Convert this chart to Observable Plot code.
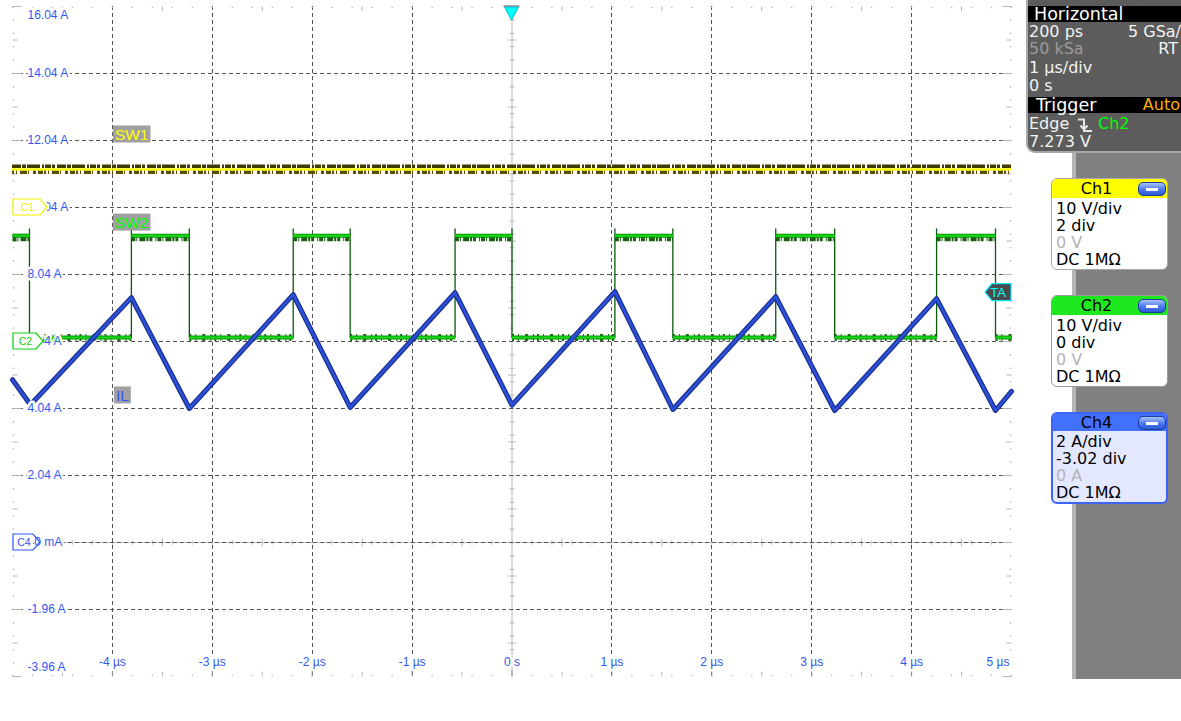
<!DOCTYPE html>
<html><head><meta charset="utf-8">
<script src="https://cdn.jsdelivr.net/npm/d3@7"></script>
<script src="https://cdn.jsdelivr.net/npm/@observablehq/plot@0.6"></script>
<style>
html,body{margin:0;padding:0;background:#fff;}
#wrap{position:relative;width:1181px;height:721px;overflow:hidden;font-family:"DejaVu Sans",sans-serif;}
#chart{position:absolute;left:0;top:0;}
#strip{position:absolute;left:1072px;top:153px;width:109px;height:526px;background:#808080;border-left:4px solid #b4b4b4;box-sizing:border-box;}
#hpanel{position:absolute;left:1026px;top:0;width:155px;height:153px;background:#5c5c5c;border-left:2px solid #a8a8a8;border-bottom:2px solid #a8a8a8;border-bottom-left-radius:9px;box-sizing:border-box;color:#f2f2f2;font-size:16px;}
.hbar{position:absolute;left:0;right:0;height:16px;line-height:16px;background:#000;color:#fff;font-size:17.5px;padding-left:7px;}
.row{position:absolute;height:18px;line-height:18px;white-space:nowrap;}
.ch{position:absolute;left:1051px;width:117px;height:92px;box-sizing:border-box;border:1px solid #a8a8a8;border-radius:6px;background:#fff;overflow:hidden;font-size:16px;color:#000;}
.chh{position:relative;height:19px;line-height:19px;}
.chh span{position:absolute;left:0;width:89px;text-align:center;}
.btn{position:absolute;right:1px;top:3px;width:26px;height:12px;border-radius:5px;border:1px solid #1d3b9c;background:linear-gradient(#a9c2ff,#4a78ee 55%,#2c58d4);}
.btn:after{content:"";position:absolute;left:7px;top:5px;width:12px;height:3px;background:#fff;}
.chb{padding:2px 0 0 4px;line-height:17px;white-space:nowrap;}
.dim{color:#b4b4b4;}
</style></head><body>
<div id="wrap">
  <div id="chart"></div>
  <div id="strip"></div>
  <div id="hpanel">
    <div class="hbar" style="top:6px;padding-left:6px">Horizontal</div>
    <div class="row" style="top:23px;left:1px">200 ps</div>
    <div class="row" style="top:23px;right:0px">5 GSa/</div>
    <div class="row" style="top:40px;left:1px;color:#9a9a9a">50 kSa</div>
    <div class="row" style="top:40px;right:3px">RT</div>
    <div class="row" style="top:59px;left:1px">1 µs/div</div>
    <div class="row" style="top:77px;left:1px">0 s</div>
    <div class="hbar" style="top:97px;padding-left:8px">Trigger<span style="position:absolute;right:1px;color:#ffac00;font-size:16px">Auto</span></div>
    <div class="row" style="top:115px;left:1px">Edge</div>
    <svg style="position:absolute;left:49px;top:117px" width="16" height="16"><path d="M1,2.5H7V14H15M3.5,8.5L7,12.5L10.5,8.5" fill="none" stroke="#e6e6e6" stroke-width="2"/></svg>
    <div class="row" style="top:115px;left:70px;color:#00ff00">Ch2</div>
    <div class="row" style="top:133px;left:1px">7.273 V</div>
  </div>
  <div class="ch" style="top:178px;">
    <div class="chh" style="background:#ffff00"><span>Ch1</span><div class="btn"></div></div>
    <div class="chb">10 V/div<br>2 div<br><span class="dim">0 V</span><br>DC 1MΩ</div>
  </div>
  <div class="ch" style="top:295px;border-color:#9a9a9a">
    <div class="chh" style="background:#1ee81e"><span>Ch2</span><div class="btn"></div></div>
    <div class="chb">10 V/div<br>0 div<br><span class="dim">0 V</span><br>DC 1MΩ</div>
  </div>
  <div class="ch" style="top:412px;border:2px solid #3d63ff;background:#e4e8ff;">
    <div class="chh" style="background:#4270ff;height:17px;line-height:17px"><span style="left:-1px">Ch4</span><div class="btn" style="right:0;top:2px"></div></div>
    <div class="chb" style="padding-left:3px">2 A/div<br>-3.02 div<br><span class="dim">0 A</span><br>DC 1MΩ</div>
  </div>
</div>
<script>
// ---------------- data ----------------
const timeGrid = [-4, -3, -2, -1, 1, 2, 3, 4];
const timeTicks = [-4, -3, -2, -1, 0, 1, 2, 3, 4];
const timeTickLabels = ["-4 µs", "-3 µs", "-2 µs", "-1 µs", "0 s", "1 µs", "2 µs", "3 µs", "4 µs"];
const timeEndLabel = "5 µs";

const ampTicks = [16.04, 14.04, 12.04, 10.04, 8.04, 6.04, 4.04, 2.04, 0.04, -1.96, -3.96];
const ampTickLabels = ["16.04 A", "14.04 A", "12.04 A", "10.04 A", "8.04 A", "6.04 A", "4.04 A", "2.04 A", "40 mA", "-1.96 A", "-3.96 A"];

// IL (Ch4) – triangle current, µs / A
const ilTimes  = [-5.00, -4.82, -3.81, -3.23, -2.19, -1.62, -0.57, 0.00, 1.03, 1.61, 2.64, 3.23, 4.25, 4.84, 5.00];
const ilValues = [ 4.90,  4.15,  7.35,  4.04,  7.44,  4.07,  7.50, 4.14, 7.53, 4.01, 7.38, 3.98, 7.32, 3.98, 4.55];

// SW1 (Ch1) – flat level, in screen (A) units
const sw1Level = 11.18;

// SW2 (Ch2) – switching node, in screen (A) units
const sw2EdgeTimes = [-4.83, -3.81, -3.23, -2.19, -1.62, -0.57, 0.00, 1.03, 1.61, 2.64, 3.23, 4.25, 4.84];
const sw2High = 9.20, sw2Low = 6.16, sw2Overshoot = 9.40;
const sw2StartsHigh = true;

const traceNames = ["SW1", "SW2", "IL"];
const traceNameTimes = [-3.99, -3.99, -3.98];
const traceNameValues = [12.22, 9.59, 4.43];
// -----------------------------------------------------------------

const xMin = -5, xMax = 5, yMin = -3.96, yMax = 16.04;
const blue = "#3158f0";
const fontLbl = "'Liberation Sans', Arial, sans-serif";

const il = ilTimes.map((t, i) => ({t, v: ilValues[i]}));

let lvl = sw2StartsHigh ? sw2High : sw2Low;
const sw2Path = [{t: xMin, v: lvl}];
const sw2Segs = [];
let prevT = xMin;
for (const t of sw2EdgeTimes) {
  sw2Segs.push({t1: prevT, t2: t, v: lvl});
  sw2Path.push({t, v: lvl}, {t, v: sw2Overshoot});
  lvl = lvl === sw2High ? sw2Low : sw2High;
  sw2Path.push({t, v: lvl});
  prevT = t;
}
sw2Segs.push({t1: prevT, t2: xMax, v: lvl});
sw2Path.push({t: xMax, v: lvl});
const highSegs = sw2Segs.filter(d => d.v === sw2High);
const lowSegs = sw2Segs.filter(d => d.v === sw2Low);

const yLabels = ampTicks.map((v, i) => ({v, label: ampTickLabels[i]}));
const xLabels = timeTicks.map((t, i) => ({t, label: timeTickLabels[i]}));

const div = 2; // A per division
const ySmall = d3.range(yMin, yMax + 0.001, div / 5);
const yHalf = ampTicks.slice(0, -1).map(v => v - div / 2);
const xSmall = d3.range(xMin, xMax + 0.001, 0.2);
const xHalf = d3.range(xMin + 0.5, xMax, 1);
const xSmallAxis = d3.range(xMin + 0.2, xMax - 0.1, 0.2);
const ySmallAxis = d3.range(yMin + 0.4, yMax - 0.1, 0.4);

const edge = "#b6b6b6";
const ampGrid = ampTicks.slice(1, -1);

const chart = Plot.plot({
  width: 1181, height: 721,
  marginLeft: 12, marginRight: 170, marginTop: 6, marginBottom: 45,
  x: {domain: [xMin, xMax], axis: null},
  y: {domain: [yMin, yMax], axis: null},
  style: {background: "transparent", fontFamily: fontLbl, fontSize: "12px", overflow: "visible"},
  marks: [
    // centre axes (light grey) with minor ticks
    Plot.ruleX([0], {stroke: "#b8b8b8"}),
    Plot.ruleY([0.04], {stroke: "#c4c4c4"}),
    Plot.link(ySmallAxis, {x1: -0.025, x2: 0.025, y1: d => d, y2: d => d, stroke: "#b8b8b8"}),
    Plot.link(yHalf, {x1: -0.04, x2: 0.04, y1: d => d, y2: d => d, stroke: "#b8b8b8"}),
    Plot.link(xSmallAxis, {x1: d => d, x2: d => d, y1: 0.04 - 0.07, y2: 0.04 + 0.07, stroke: "#c4c4c4"}),
    Plot.link(xHalf, {x1: d => d, x2: d => d, y1: 0.04 - 0.12, y2: 0.04 + 0.12, stroke: "#b8b8b8"}),
    // dashed graticule
    Plot.ruleX(timeGrid, {stroke: "#555", strokeDasharray: "4,3", shapeRendering: "crispEdges"}),
    Plot.ruleY(ampGrid, {stroke: "#555", strokeDasharray: "4,3", shapeRendering: "crispEdges"}),
    // frame edge dots / ticks
    Plot.dot(ySmall, {x: xMin, y: d => d, r: 0.8, fill: edge, stroke: null, dx: 1}),
    Plot.dot(ySmall, {x: xMax, y: d => d, r: 0.8, fill: edge, stroke: null, dx: -1}),
    Plot.dot(xSmall, {x: d => d, y: yMax, r: 0.8, fill: edge, stroke: null, dy: 1}),
    Plot.dot(xSmall, {x: d => d, y: yMin, r: 0.8, fill: edge, stroke: null, dy: -1}),
    Plot.link(ampTicks, {x1: xMin, x2: xMin + 0.09, y1: d => d, y2: d => d, stroke: edge}),
    Plot.link(yHalf, {x1: xMin, x2: xMin + 0.05, y1: d => d, y2: d => d, stroke: edge}),
    Plot.link(ampTicks, {x1: xMax - 0.09, x2: xMax, y1: d => d, y2: d => d, stroke: edge}),
    Plot.link(yHalf, {x1: xMax - 0.05, x2: xMax, y1: d => d, y2: d => d, stroke: edge}),
    Plot.link(xHalf, {x1: d => d, x2: d => d, y1: yMax, y2: yMax - 0.14, stroke: edge}),
    Plot.link(xHalf, {x1: d => d, x2: d => d, y1: yMin, y2: yMin + 0.14, stroke: edge}),
    Plot.link(timeTicks, {x1: d => d, x2: d => d, y1: yMin, y2: yMin + 0.2, stroke: "#999"}),

    // SW1
    Plot.ruleY([sw1Level], {stroke: "#3f3a00", strokeWidth: 3.5, dy: -3, strokeDasharray: "9,1,4,1,13,2,2,1,6,1,3,2"}),
    Plot.ruleY([sw1Level], {stroke: "#5a5000", strokeWidth: 3.5, dy: 3, strokeDasharray: "2,2,1,3,7,1,1,4,3,2,5,1"}),
    Plot.ruleY([sw1Level], {stroke: "#ffff00", strokeWidth: 2.2}),

    // SW2
    Plot.link(highSegs, {x1: "t1", x2: "t2", y1: "v", y2: "v", stroke: "#1c5f12", strokeWidth: 5, dy: 3, strokeDasharray: "4,1,1,2,6,1,2,1,3,3,1,1"}),
    Plot.link(lowSegs, {x1: "t1", x2: "t2", y1: "v", y2: "v", stroke: "#1c6a12", strokeWidth: 7, strokeDasharray: "2,4,1,6,3,5,1,3"}),
    Plot.line(sw2Path, {x: "t", y: "v", stroke: "#0b5a0b", strokeWidth: 1.3}),
    Plot.link(sw2Segs, {x1: "t1", x2: "t2", y1: "v", y2: "v", stroke: "#138a13", strokeWidth: 4}),
    Plot.link(sw2Segs, {x1: "t1", x2: "t2", y1: "v", y2: "v", stroke: "#10e010", strokeWidth: 2}),

    // IL
    Plot.line(il, {x: "t", y: "v", stroke: "#1a2f92", strokeWidth: 5}),
    Plot.line(il, {x: "t", y: "v", stroke: "#2c50d6", strokeWidth: 2.6}),

    // tick labels (drawn inside the graticule like the scope does)
    Plot.text(yLabels.slice(1, -1), {x: xMin, y: "v", text: "label", dx: 15, textAnchor: "start", fill: blue, stroke: "white", strokeWidth: 5}),
    Plot.text(yLabels.slice(0, 1), {x: xMin, y: "v", text: "label", dx: 15, dy: 9, textAnchor: "start", fill: blue, stroke: "white", strokeWidth: 5}),
    Plot.text(yLabels.slice(-1), {x: xMin, y: "v", text: "label", dx: 15, dy: -9, textAnchor: "start", fill: blue, stroke: "white", strokeWidth: 5}),
    Plot.text(xLabels, {x: "t", y: yMin, text: "label", dy: -14, fill: blue, stroke: "white", strokeWidth: 5}),
    Plot.text([timeEndLabel], {x: xMax, y: yMin, text: d => d, dy: -14, dx: -2, textAnchor: "end", fill: blue, stroke: "white", strokeWidth: 5})
  ]
});
document.getElementById("chart").appendChild(chart);

// ---- scope annotations placed through the plot's own scales ----
const X = chart.scale("x"), Y = chart.scale("y");
const sx = v => X.apply(v), sy = v => Y.apply(v);
const g = d3.select(chart).append("g");

// trace name tags
const tagColors = ["#ffff00", "#00ff00", "#3256ff"];
traceNames.forEach((name, i) => {
  const px = sx(traceNameTimes[i]), py = sy(traceNameValues[i]);
  const t = g.append("text").attr("x", px + 2).attr("y", py).attr("dy", "0.36em")
    .attr("text-anchor", "start").style("font-family", fontLbl).style("font-size", "15.5px")
    .attr("fill", tagColors[i]).text(name);
  const w = t.node().getComputedTextLength();
  g.insert("rect", () => t.node()).attr("x", px).attr("y", py - 8.5).attr("width", w + 4).attr("height", 17).attr("fill", "#a0a0a0");
});

// channel ground markers on the left edge
function marker(level, w, color, label, opaqueW) {
  const x0 = sx(xMin) + 1, y0 = sy(level);
  g.append("rect").attr("x", x0).attr("y", y0 - 8).attr("width", opaqueW).attr("height", 16).attr("fill", "white");
  g.append("path").attr("d", `M${x0},${y0 - 8}H${x0 + w - 7}L${x0 + w},${y0}L${x0 + w - 7},${y0 + 8}H${x0}Z`)
    .attr("fill", "none").attr("stroke", color).attr("stroke-width", 1.2);
  g.append("text").attr("x", x0 + (w - 7) / 2 + 1).attr("y", y0).attr("dy", "0.36em").attr("text-anchor", "middle")
    .style("font-family", fontLbl).style("font-size", "10.5px").attr("fill", color).text(label);
}
marker(10.04, 34, "#f0f000", "C1", 34);
g.append("rect").attr("x", sx(xMin) + 30).attr("y", sy(6.04) - 4).attr("width", 18).attr("height", 5).attr("fill", "#00e000").attr("opacity", 0.2);
marker(6.04, 30, "#10d010", "C2", 30);
marker(0.04, 27, "#3256ff", "C4", 20);

// trigger position marker (top) and trigger level marker (right)
{
  const x0 = sx(0), y0 = sy(yMax);
  g.append("rect").attr("x", x0 - 8).attr("y", y0 - 1).attr("width", 16).attr("height", 2).attr("fill", "#a8a8a8");
  g.append("path").attr("d", `M${x0 - 7},${y0 + 1}L${x0 + 7},${y0 + 1}L${x0},${y0 + 14}Z`).attr("fill", "#00ffff").attr("stroke", "#00b8c8");
  const xr = sx(xMax), yr = sy(7.5);
  g.append("path").attr("d", `M${xr},${yr - 8.5}H${xr - 19}L${xr - 26},${yr}L${xr - 19},${yr + 8.5}H${xr}Z`)
    .attr("fill", "#4a4a4a").attr("stroke", "#00e8ff").attr("stroke-width", 1.2);
  g.append("text").attr("x", xr - 13).attr("y", yr).attr("dy", "0.36em").attr("text-anchor", "middle")
    .style("font-family", fontLbl).style("font-size", "13px").attr("fill", "#00ffff").text("TA");
}
</script>
</body></html>
